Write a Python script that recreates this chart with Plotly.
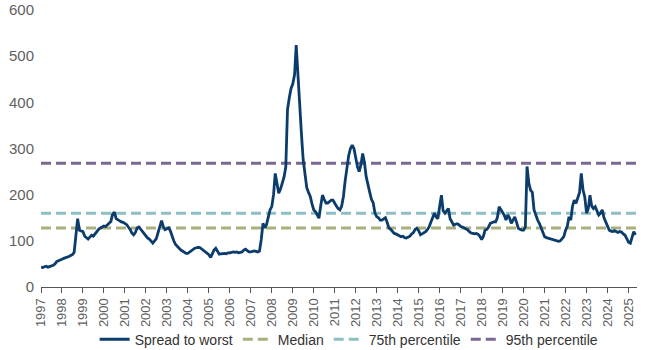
import pandas as pd
import plotly.graph_objects as go

# Monthly high-yield spread to worst (bps), Jan 1997 - May 2025
spread_by_year = {
    1997: [43, 42, 44, 45, 43, 44, 46, 47, 50, 55, 57, 58],
    1998: [60, 62, 63, 65, 66, 68, 70, 75, 120, 148, 123, 122],
    1999: [120, 110, 106, 104, 108, 112, 110, 116, 120, 125, 128, 130],
    2000: [132, 131, 135, 140, 142, 158, 162, 148, 145, 142, 141, 140],
    2001: [138, 135, 130, 125, 117, 113, 118, 128, 130, 125, 120, 117],
    2002: [112, 106, 104, 100, 95, 100, 105, 118, 130, 144, 130, 124],
    2003: [126, 128, 122, 110, 100, 92, 88, 82, 80, 78, 75, 73],
    2004: [73, 76, 80, 83, 84, 85, 86, 85, 82, 79, 77, 74],
    2005: [70, 64, 72, 80, 84, 76, 71, 72, 73, 73, 72, 74],
    2006: [74, 75, 76, 75, 76, 74, 75, 76, 80, 82, 79, 76],
    2007: [76, 77, 78, 77, 76, 78, 102, 138, 128, 135, 155, 167],
    2008: [174, 200, 246, 220, 203, 212, 225, 238, 260, 385, 410, 430],
    2009: [440, 460, 524, 455, 380, 330, 275, 240, 215, 205, 196, 180],
    2010: [167, 163, 155, 149, 175, 199, 190, 182, 182, 185, 188, 188],
    2011: [180, 175, 170, 167, 175, 196, 230, 260, 285, 300, 307, 300],
    2012: [280, 260, 250, 265, 289, 270, 239, 225, 205, 190, 182, 160],
    2013: [152, 150, 145, 145, 148, 150, 140, 128, 125, 120, 116, 115],
    2014: [113, 110, 109, 110, 107, 106, 108, 110, 115, 118, 125, 127],
    2015: [122, 113, 115, 117, 120, 124, 130, 140, 150, 160, 152, 148],
    2016: [175, 199, 165, 160, 165, 170, 148, 140, 134, 136, 137, 135],
    2017: [131, 130, 128, 127, 124, 120, 117, 116, 115, 116, 114, 110],
    2018: [103, 110, 123, 125, 130, 138, 140, 141, 141, 150, 174, 168],
    2019: [163, 155, 145, 156, 150, 138, 145, 152, 140, 127, 125, 123],
    2020: [123, 130, 261, 225, 210, 205, 167, 155, 145, 138, 127, 118],
    2021: [109, 107, 106, 105, 104, 102, 101, 100, 99, 100, 105, 109],
    2022: [123, 132, 152, 145, 175, 188, 181, 195, 205, 246, 210, 195],
    2023: [160, 170, 199, 175, 170, 174, 165, 156, 160, 167, 150, 141],
    2024: [135, 123, 121, 120, 122, 120, 118, 120, 119, 115, 112, 105],
    2025: [97, 95, 110, 120, 113],
}

median_level = 128
pct75_level = 160
pct95_level = 268

dates = []
spread = []
for year, vals in spread_by_year.items():
    for i, v in enumerate(vals):
        dates.append(pd.Timestamp(year=year, month=i + 1, day=1))
        spread.append(v)

x_start = pd.Timestamp("1997-01-01")
x_end = pd.Timestamp("2025-05-28")

NAVY = "#0b3c6c"
GREEN = "#a9b07e"
TEAL = "#8fbec4"
PURPLE = "#7b6892"
FONT = "Liberation Sans, Arial, sans-serif"
GRAY = "#5f5f5f"

fig = go.Figure()

for name, level, color, rank in [
    ("Median", median_level, GREEN, 2),
    ("75th percentile", pct75_level, TEAL, 3),
    ("95th percentile", pct95_level, PURPLE, 4),
]:
    fig.add_trace(go.Scatter(
        x=[x_start, x_end], y=[level, level], mode="lines", name=name,
        line=dict(color=color, width=3, dash="10px,5px"),
        legendrank=rank, hoverinfo="skip",
    ))

fig.add_trace(go.Scatter(
    x=dates, y=spread, mode="lines", name="Spread to worst",
    line=dict(color=NAVY, width=2.8), legendrank=1,
))

fig.update_layout(
    width=650, height=350,
    margin=dict(l=41, r=13, t=10, b=63, autoexpand=False),
    paper_bgcolor="white", plot_bgcolor="white",
    font=dict(family=FONT, color=GRAY, size=14),
    showlegend=True,
    legend=dict(
        orientation="h", x=0.517, xanchor="center", y=-0.19, yanchor="middle",
        font=dict(size=14, color="#333333"), itemwidth=30,
        bgcolor="rgba(0,0,0,0)", traceorder="normal",
    ),
)

fig.update_xaxes(
    type="date", range=[x_start, x_end], automargin=False,
    tickformat="%Y", dtick="M12", tick0="1997-01-01",
    tickangle=-90, tickfont=dict(size=13, color=GRAY),
    ticks="outside", ticklen=5, tickcolor="#555555",
    showline=True, linecolor="#555555", linewidth=1,
    showgrid=False, zeroline=False,
)
fig.update_yaxes(
    range=[0, 600], dtick=100, tickfont=dict(size=15, color=GRAY),
    showgrid=False, zeroline=False, showline=False, ticks="",
    ticklabelstandoff=6, automargin=False,
)

fig.write_html("out.html")
